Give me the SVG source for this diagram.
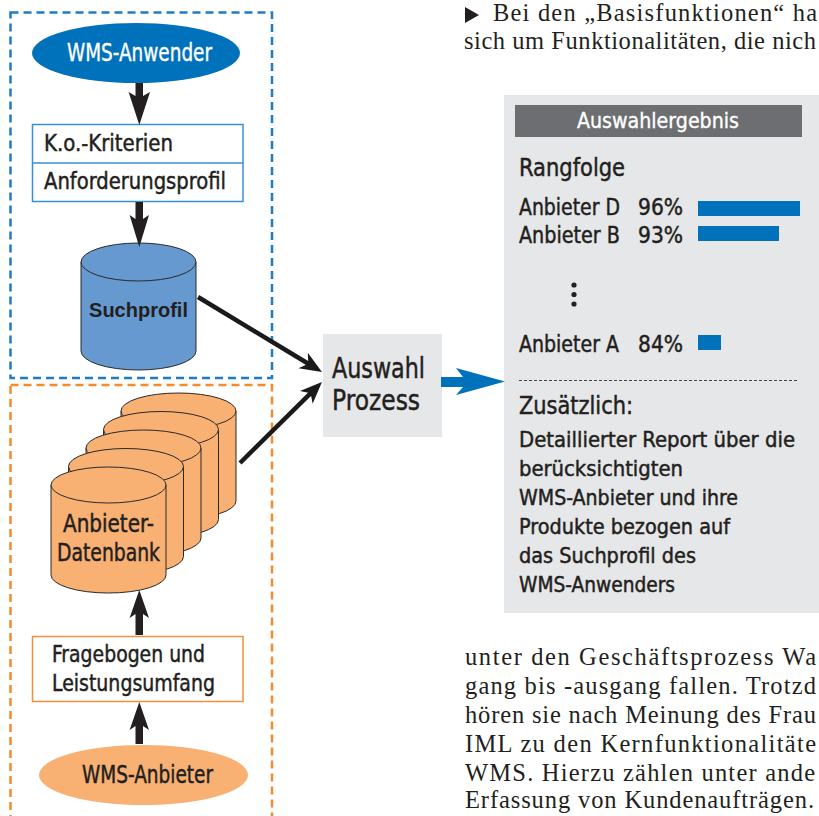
<svg xmlns="http://www.w3.org/2000/svg" width="819" height="816" viewBox="0 0 819 816">
<style>
.din{font-family:"Liberation Sans Narrow","DejaVu Sans Condensed","Roboto","Liberation Sans",sans-serif;fill:#231f20;stroke:#231f20;stroke-width:0.45;}
.wt{fill:#ffffff;stroke:#ffffff;stroke-width:0.35;}
.serif{font-family:"Liberation Serif","DejaVu Serif",serif;font-size:24.5px;fill:#231f20;}
.blk{fill:#231f20;}
.cylO{fill:#f8b073;stroke:#2a2a2a;stroke-width:1;}
.conn{stroke:#1a1a1a;stroke-width:4.5;fill:none;}
</style>
<defs>
<marker id="barb" markerUnits="userSpaceOnUse" viewBox="-10 -10 30 20" markerWidth="30" markerHeight="20" refX="0" refY="0" orient="auto">
<path d="M14,0 L-8,-9 L-2,0 L-8,9 Z" fill="#1a1a1a"/>
</marker>
</defs>
<rect width="819" height="816" fill="#ffffff"/>

<!-- dashed groups -->
<rect x="10.5" y="12.5" width="261.5" height="365.5" fill="none" stroke="#1f7bc6" stroke-width="2.5" stroke-dasharray="8,5"/>
<rect x="10.5" y="385" width="261.5" height="445" fill="none" stroke="#f58b2c" stroke-width="2.5" stroke-dasharray="8,5"/>

<g id="wms-anwender">
<ellipse cx="136" cy="53" rx="104" ry="30" fill="#0071bb"/>
<text class="din wt" x="67" y="61" font-size="24" textLength="145" lengthAdjust="spacingAndGlyphs">WMS-Anwender</text>
</g>

<g id="kriterien">
<rect x="32.5" y="124.5" width="210.5" height="77" fill="#ffffff" stroke="#3a8fd4" stroke-width="1.5"/>
<line x1="32.5" y1="163" x2="243" y2="163" stroke="#3a8fd4" stroke-width="1.5"/>
<text class="din" x="44" y="151" font-size="23" textLength="129" lengthAdjust="spacingAndGlyphs">K.o.-Kriterien</text>
<text class="din" x="44" y="189" font-size="23" textLength="182" lengthAdjust="spacingAndGlyphs">Anforderungsprofil</text>
</g>

<g id="suchprofil">
<path d="M81,262 L81,351 A57.5,19 0 0 0 196,351 L196,262 Z" fill="#6699cf" stroke="#2a2a2a" stroke-width="1"/>
<ellipse cx="138.5" cy="262" rx="57.5" ry="19" fill="#6699cf" stroke="#2a2a2a" stroke-width="1"/>
<text x="138.5" y="317" text-anchor="middle" font-family="Liberation Sans, Arial, sans-serif" font-weight="bold" font-size="20" fill="#231f20">Suchprofil</text>
</g>

<g id="anbieter-datenbank">
<path class="cylO" d="M121,411 L121,501 A57.5,18 0 0 0 236,501 L236,411 Z"/>
<ellipse class="cylO" cx="178.5" cy="411" rx="57.5" ry="18"/>
<path class="cylO" d="M103.5,429.5 L103.5,519.5 A57.5,18 0 0 0 218.5,519.5 L218.5,429.5 Z"/>
<ellipse class="cylO" cx="161" cy="429.5" rx="57.5" ry="18"/>
<path class="cylO" d="M86,448 L86,538 A57.5,18 0 0 0 201,538 L201,448 Z"/>
<ellipse class="cylO" cx="143.5" cy="448" rx="57.5" ry="18"/>
<path class="cylO" d="M68.5,466.5 L68.5,556.5 A57.5,18 0 0 0 183.5,556.5 L183.5,466.5 Z"/>
<ellipse class="cylO" cx="126" cy="466.5" rx="57.5" ry="18"/>
<path class="cylO" d="M51,485 L51,575 A57.5,18 0 0 0 166,575 L166,485 Z"/>
<ellipse class="cylO" cx="108.5" cy="485" rx="57.5" ry="18"/>
<text class="din" x="63" y="532" font-size="24" textLength="91" lengthAdjust="spacingAndGlyphs">Anbieter-</text>
<text class="din" x="57" y="561" font-size="24" textLength="103" lengthAdjust="spacingAndGlyphs">Datenbank</text>
</g>

<g id="fragebogen">
<rect x="32.5" y="636.5" width="210.5" height="65" fill="#ffffff" stroke="#f0903c" stroke-width="1.5"/>
<text class="din" x="52" y="662" font-size="23" textLength="153" lengthAdjust="spacingAndGlyphs">Fragebogen und</text>
<text class="din" x="52" y="691" font-size="23" textLength="163" lengthAdjust="spacingAndGlyphs">Leistungsumfang</text>
</g>

<g id="wms-anbieter">
<ellipse cx="143.5" cy="775" rx="104.5" ry="30" fill="#f8b073"/>
<text class="din" x="82" y="783" font-size="24" textLength="131" lengthAdjust="spacingAndGlyphs">WMS-Anbieter</text>
</g>

<g id="auswahl-prozess">
<rect x="323" y="334" width="119" height="103" fill="#e6e7e8"/>
<text class="din" x="332" y="378" font-size="29" textLength="93" lengthAdjust="spacingAndGlyphs">Auswahl</text>
<text class="din" x="332" y="410" font-size="29" textLength="88" lengthAdjust="spacingAndGlyphs">Prozess</text>
</g>

<g id="auswahlergebnis">
<rect x="504" y="95" width="320" height="518" fill="#e6e7e8"/>
<rect x="515" y="105" width="287" height="32" fill="#6d6e71"/>
<text class="din wt" x="577" y="128" font-size="22" textLength="162" lengthAdjust="spacingAndGlyphs">Auswahlergebnis</text>
<text class="din" x="519" y="176" font-size="24" textLength="106" lengthAdjust="spacingAndGlyphs">Rangfolge</text>
<text class="din" x="519" y="215" font-size="23" textLength="101" lengthAdjust="spacingAndGlyphs">Anbieter D</text>
<text class="din" x="638" y="215" font-size="23" textLength="45" lengthAdjust="spacingAndGlyphs">96%</text>
<rect x="698" y="201" width="102" height="15" fill="#0071bb"/>
<text class="din" x="519" y="243" font-size="23" textLength="101" lengthAdjust="spacingAndGlyphs">Anbieter B</text>
<text class="din" x="638" y="243" font-size="23" textLength="45" lengthAdjust="spacingAndGlyphs">93%</text>
<rect x="698" y="226" width="81" height="15" fill="#0071bb"/>
<circle cx="574" cy="285" r="2.6" class="blk"/>
<circle cx="574" cy="294.5" r="2.6" class="blk"/>
<circle cx="574" cy="304" r="2.6" class="blk"/>
<text class="din" x="519" y="352" font-size="23" textLength="100" lengthAdjust="spacingAndGlyphs">Anbieter A</text>
<text class="din" x="638" y="352" font-size="23" textLength="45" lengthAdjust="spacingAndGlyphs">84%</text>
<rect x="698" y="335" width="23" height="15" fill="#0071bb"/>
<line x1="519" y1="380.5" x2="799" y2="380.5" stroke="#444" stroke-width="1" stroke-dasharray="3,2"/>
<text class="din" x="519" y="414" font-size="24" textLength="114" lengthAdjust="spacingAndGlyphs">Zusätzlich:</text>
<text class="din" x="519" y="447" font-size="21" textLength="276" lengthAdjust="spacingAndGlyphs">Detaillierter Report über die</text>
<text class="din" x="519" y="476" font-size="21" textLength="164" lengthAdjust="spacingAndGlyphs">berücksichtigten</text>
<text class="din" x="519" y="505" font-size="21" textLength="219" lengthAdjust="spacingAndGlyphs">WMS-Anbieter und ihre</text>
<text class="din" x="519" y="534" font-size="21" textLength="211" lengthAdjust="spacingAndGlyphs">Produkte bezogen auf</text>
<text class="din" x="519" y="563" font-size="21" textLength="177" lengthAdjust="spacingAndGlyphs">das Suchprofil des</text>
<text class="din" x="519" y="592" font-size="21" textLength="156" lengthAdjust="spacingAndGlyphs">WMS-Anwenders</text>
</g>

<g id="connectors">
<path class="blk" d="M135.5,83 L143,83 L143,96 L150,92 L139.3,125 L128.6,92 L135.5,96 Z"/>
<path class="blk" d="M135.5,202 L143,202 L143,219 L149,215 L139.3,247 L129.6,215 L135.5,219 Z"/>
<path class="blk" d="M135.5,635 L143,635 L143,614 L149,618 L139.3,590 L129.6,618 L135.5,614 Z"/>
<path class="blk" d="M135.5,744 L143,744 L143,726 L149,730 L139.3,702 L129.6,730 L135.5,726 Z"/>
<line class="conn" x1="198" y1="297" x2="310" y2="364.7" marker-end="url(#barb)"/>
<line class="conn" x1="240" y1="463" x2="312" y2="391.8" marker-end="url(#barb)"/>
<path d="M441,377 L463,377 L456,368 L505,381.5 L456,395 L463,387 L441,387 Z" fill="#0071bb"/>
</g>

<g id="body-text">
<polygon points="465,7 479,15 465,23" class="blk"/>
<text class="serif" x="493" y="21" textLength="324" lengthAdjust="spacing">Bei den „Basisfunktionen“ ha</text>
<text class="serif" x="464" y="49" textLength="352" lengthAdjust="spacing">sich um Funktionalitäten, die nich</text>
<text class="serif" x="465" y="665" textLength="351" lengthAdjust="spacing">unter den Geschäftsprozess Wa</text>
<text class="serif" x="465" y="694" textLength="351" lengthAdjust="spacing">gang bis -ausgang fallen. Trotzd</text>
<text class="serif" x="465" y="723" textLength="351" lengthAdjust="spacing">hören sie nach Meinung des Frau</text>
<text class="serif" x="465" y="752" textLength="351" lengthAdjust="spacing">IML zu den Kernfunktionalitäte</text>
<text class="serif" x="465" y="781" textLength="350" lengthAdjust="spacing">WMS. Hierzu zählen unter ande</text>
<text class="serif" x="465" y="808" textLength="349" lengthAdjust="spacing">Erfassung von Kundenaufträgen.</text>
</g>
</svg>
